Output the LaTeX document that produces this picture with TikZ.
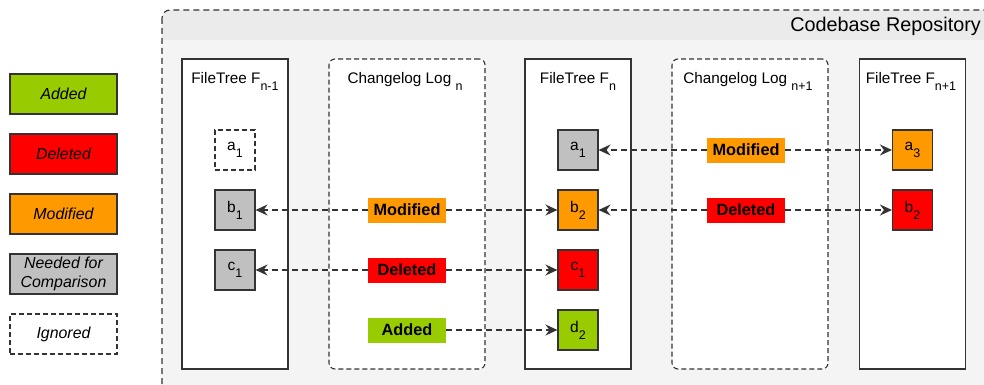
\documentclass[tikz,border=0pt]{standalone}
\usepackage{fontspec}
\setmainfont{Liberation Sans}
\usetikzlibrary{arrows.meta}

\definecolor{addedc}{HTML}{99CC00}
\definecolor{deletedc}{HTML}{FF0000}
\definecolor{modifiedc}{HTML}{FF9900}
\definecolor{neededc}{HTML}{C0C0C0}
\definecolor{strokec}{HTML}{333333}
\definecolor{repobg}{HTML}{F4F4F4}
\definecolor{repohdr}{HTML}{EBEBEB}

\newcommand\fsz[1]{\fontsize{#1}{#1}\selectfont}
\newcommand\lowsub[1]{\raisebox{-0.45em}{\fsz{12.5}#1}}

\tikzset{
  treebox/.style={draw=strokec, line width=1.1pt, fill=white,
    minimum width=106, minimum height=310, inner sep=0},
  logbox/.style={draw=strokec, line width=1.1pt, dash pattern=on 5pt off 3pt,
    rounded corners=6, fill=white, minimum width=156, minimum height=310, inner sep=0},
  item/.style={draw=strokec, line width=1.1pt, minimum size=40, inner sep=0,
    font=\fsz{15.5}},
  tag/.style={minimum width=78, minimum height=25, inner sep=0,
    font=\fsz{16.3}\bfseries},
  legend/.style={draw=strokec, line width=1.1pt, minimum width=107,
    minimum height=40, inner sep=0, align=center,
    font=\fontsize{15.9}{19.5}\selectfont\itshape},
  link/.style={draw=strokec, line width=1.4pt, dash pattern=on 6pt off 4pt,
    -{Stealth[length=12pt,width=11pt,inset=4pt]}},
  coltitle/.style={anchor=base, inner sep=0, font=\fsz{15.3}},
}

\begin{document}
\begin{tikzpicture}[x=1pt, y=-1pt]
\useasboundingbox (0,0) rectangle (984,385);
\clip (0,0) rectangle (984,385);

% repository container with header band
\fill[repobg, rounded corners=8] (162,10) rectangle (1010,400);
\begin{scope}
  \clip[rounded corners=8] (162,10) rectangle (1010,400);
  \fill[repohdr] (162,10) rectangle (1010,40);
\end{scope}
\draw[strokec, line width=1.1pt, dash pattern=on 6pt off 4pt, rounded corners=8]
  (162,10) rectangle (1010,400);
\node[anchor=base east, inner sep=0, font=\fsz{19.8}] (repotitle) at (981,32) {Codebase Repository};

% legend
\node[legend, fill=addedc]    (lgadd) at (63.5,94)  {Added};
\node[legend, fill=deletedc]  (lgdel) at (63.5,154) {Deleted};
\node[legend, fill=modifiedc] (lgmod) at (63.5,214) {Modified};
\node[legend, fill=neededc]   (lgneed) at (63.5,274) {Needed for\\Comparison};
\node[legend, fill=white, dash pattern=on 5pt off 3pt] (lgign) at (63.5,334) {Ignored};

% columns
\node[treebox] (ftA) at (235,214)   {};
\node[logbox]  (lgA) at (407,214)   {};
\node[treebox] (ftB) at (578,214)   {};
\node[logbox]  (lgB) at (750,214)   {};
\node[treebox] (ftC) at (912.5,214) {};

\node[coltitle] (ftAt) at (235,84)   {FileTree F\lowsub{n-1}};
\node[coltitle] (lgAt) at (405,84)   {Changelog Log \lowsub{n}};
\node[coltitle] (ftBt) at (578,84)   {FileTree F\lowsub{n}};
\node[coltitle] (lgBt) at (748,84)   {Changelog Log \lowsub{n+1}};
\node[coltitle] (ftCt) at (911,84) {FileTree F\lowsub{n+1}};

% file items
\node[item, fill=white, dash pattern=on 5pt off 3pt] (a1A) at (235,150) {a\lowsub{1}};
\node[item, fill=neededc] (b1A) at (235,210) {b\lowsub{1}};
\node[item, fill=neededc] (c1A) at (235,270) {c\lowsub{1}};

\node[item, fill=neededc]   (a1B) at (578,150) {a\lowsub{1}};
\node[item, fill=modifiedc] (b2B) at (578,210) {b\lowsub{2}};
\node[item, fill=deletedc]  (c1B) at (578,270) {c\lowsub{1}};
\node[item, fill=addedc]    (d2B) at (578,330) {d\lowsub{2}};

\node[item, fill=modifiedc] (a3C) at (912.5,150) {a\lowsub{3}};
\node[item, fill=deletedc]  (b2C) at (912.5,210) {b\lowsub{2}};

% change tags
\node[tag, fill=modifiedc] (modA) at (407,210) {Modified};
\node[tag, fill=deletedc]  (delA) at (407,270) {Deleted};
\node[tag, fill=addedc]    (addA) at (407,330) {Added};
\node[tag, fill=modifiedc] (modB) at (746,150) {Modified};
\node[tag, fill=deletedc]  (delB) at (746,210) {Deleted};

% links
\draw[link] (modA) -- (b1A);
\draw[link] (modA) -- (b2B);
\draw[link] (delA) -- (c1A);
\draw[link] (delA) -- (c1B);
\draw[link] (addA) -- (d2B);
\draw[link] (modB) -- (a1B);
\draw[link] (modB) -- (a3C);
\draw[link] (delB) -- (b2B);
\draw[link] (delB) -- (b2C);
\end{tikzpicture}
\end{document}
